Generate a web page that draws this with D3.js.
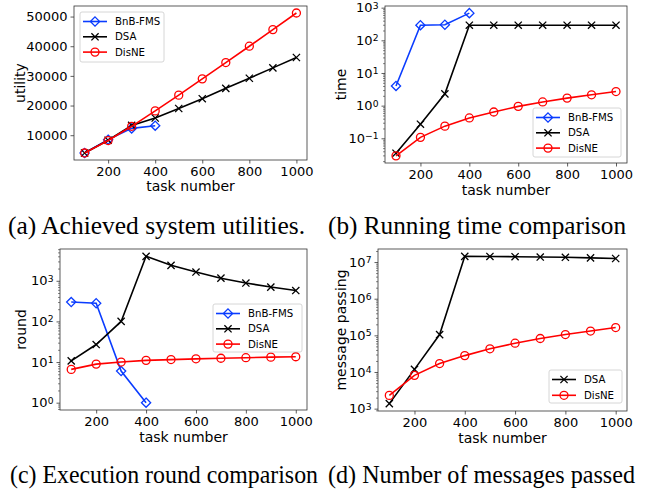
<!DOCTYPE html>
<html>
<head>
<meta charset="utf-8">
<script src="https://cdn.jsdelivr.net/npm/d3@7"></script>
<style>
body { margin: 0; background: #fff; }
svg { display: block; }
.cap { font-family: 'Liberation Serif', 'Times New Roman', Times, serif; }
</style>
</head>
<body>
<svg id="chart" width="655" height="490" font-family="DejaVu Sans, sans-serif"></svg>
<script>
// task numbers on the x axis
var tasks = [100, 200, 300, 400, 500, 600, 700, 800, 900, 1000];
var bnbTasks = [100, 200, 300, 400];
var xTicks = [200, 400, 600, 800, 1000];

// (a) achieved utility
var utilBnB = [4000, 8500, 12300, 13200];
var utilDSA = [4000, 8300, 13300, 15800, 19000, 22300, 25800, 29200, 32700, 36200];
var utilDisNE = [4000, 8200, 13000, 18200, 23500, 29000, 34500, 40000, 45600, 51200];

// (b) running time
var timeBnB = [4.0, 290, 300, 680];
var timeDSA = [0.035, 0.27, 2.3, 290, 290, 290, 290, 290, 290, 290];
var timeDisNE = [0.029, 0.107, 0.236, 0.42, 0.64, 0.95, 1.3, 1.7, 2.15, 2.7];

// (c) execution rounds
var roundBnB = [300, 280, 6, 1];
var roundDSA = [10.7, 27, 100, 4000, 2400, 1640, 1160, 880, 700, 575];
var roundDisNE = [6.6, 8.9, 10, 11, 11.5, 12, 12.4, 12.8, 13.2, 13.5];

// (d) messages passed
var msgDSA = [1370, 11800, 105000, 14300000, 14200000, 14000000, 13700000, 13500000, 13000000, 12500000];
var msgDisNE = [2300, 8100, 17000, 28000, 43000, 61000, 82000, 105000, 131000, 163000];

var utilTicks = [10000, 20000, 30000, 40000, 50000];

var captions = ["(a) Achieved system utilities.", "(b) Running time comparison",
	"(c) Execution round comparison", "(d) Number of messages passed"];

var styles = {
	"BnB-FMS": {color: "#0a3cff", marker: "diamond"},
	"DSA": {color: "#000000", marker: "x"},
	"DisNE": {color: "#ff0000", marker: "circle"}
};

var panels = [
	{x0: 74, x1: 307, y0: 6, y1: 160, log: false, ylabel: "utility", yTicks: utilTicks,
		series: [["BnB-FMS", bnbTasks, utilBnB], ["DSA", tasks, utilDSA], ["DisNE", tasks, utilDisNE]],
		legend: {x: 80, y: 12, w: 84, h: 50}, ylabX: 20, xlabY: 191, cap: {x: 8, y: 234, w: 297}},
	{x0: 385, x1: 627, y0: 6, y1: 163, log: true, ylabel: "time", yTicks: [0.1, 1, 10, 100, 1000],
		series: [["BnB-FMS", bnbTasks, timeBnB], ["DSA", tasks, timeDSA], ["DisNE", tasks, timeDisNE]],
		legend: {x: 533, y: 108, w: 88, h: 49}, ylabX: 341, xlabY: 195, cap: {x: 328, y: 234, w: 298}},
	{x0: 60, x1: 307, y0: 249, y1: 410, log: true, ylabel: "round", yTicks: [1, 10, 100, 1000],
		series: [["BnB-FMS", bnbTasks, roundBnB], ["DSA", tasks, roundDSA], ["DisNE", tasks, roundDisNE]],
		legend: {x: 213, y: 304, w: 89, h: 48}, ylabX: 21, xlabY: 442, cap: {x: 10, y: 483, w: 308}},
	{x0: 378, x1: 627, y0: 249, y1: 411, log: true, ylabel: "message passing", yTicks: [1e3, 1e4, 1e5, 1e6, 1e7],
		series: [["DSA", tasks, msgDSA], ["DisNE", tasks, msgDisNE]],
		legend: {x: 549, y: 370, w: 73, h: 33}, ylabX: 341, xlabY: 443, cap: {x: 328, y: 483, w: 307}}
];

var svg = d3.select("#chart");

function drawMarker(g, type, color, cx, cy) {
	if (type == "diamond") {
		g.append("path")
			.attr("d", "M" + cx + "," + (cy - 4.6) + "L" + (cx + 4.6) + "," + cy + "L" + cx + "," + (cy + 4.6) + "L" + (cx - 4.6) + "," + cy + "Z")
			.attr("fill", "none").attr("stroke", color).attr("stroke-width", 1.3);
	} else if (type == "circle") {
		g.append("circle").attr("cx", cx).attr("cy", cy).attr("r", 4)
			.attr("fill", "none").attr("stroke", color).attr("stroke-width", 1.3);
	} else {
		var s = 3.6;
		g.append("path")
			.attr("d", "M" + (cx - s) + "," + (cy - s) + "L" + (cx + s) + "," + (cy + s) + "M" + (cx - s) + "," + (cy + s) + "L" + (cx + s) + "," + (cy - s))
			.attr("stroke", color).attr("stroke-width", 1.3);
	}
}

function supLabel(sel, v) {
	var e = Math.round(Math.log10(v));
	sel.text("");
	sel.append("tspan").text("10");
	sel.append("tspan").attr("dy", -3.8).attr("font-size", 9.2).text(e < 0 ? "\u2212" + (-e) : e);
}

function drawPanel(p) {
	var g = svg.append("g");
	var x = d3.scaleLinear().domain([55, 1045]).range([p.x0, p.x1]);
	var all = [];
	p.series.forEach(function (s) { all = all.concat(s[2]); });
	var y;
	if (p.log) {
		var lo = Math.log10(d3.min(all)), hi = Math.log10(d3.max(all));
		var m = (hi - lo) * 0.05;
		y = d3.scaleLog().domain([Math.pow(10, lo - m), Math.pow(10, hi + m)]).range([p.y1, p.y0]);
	} else {
		var lo = d3.min(all), hi = d3.max(all);
		var m = (hi - lo) * 0.05;
		y = d3.scaleLinear().domain([lo - m, hi + m]).range([p.y1, p.y0]);
	}

	// axes
	var xa = g.append("g").attr("transform", "translate(0," + p.y1 + ")")
		.call(d3.axisBottom(x).tickValues(xTicks).tickSize(3.5).tickPadding(3).tickFormat(d3.format("d")));
	var ya = g.append("g").attr("transform", "translate(" + p.x0 + ",0)")
		.call(d3.axisLeft(y).tickValues(p.yTicks).tickSize(3.5).tickPadding(3).tickFormat(p.log ? function (d) { return d; } : d3.format("d")));
	if (p.log) {
		var minor = [];
		var dom = y.domain();
		for (var k = -3; k <= 8; k++) {
			for (var j = 2; j <= 9; j++) {
				var v = j * Math.pow(10, k);
				if (v >= dom[0] && v <= dom[1]) minor.push(v);
			}
		}
		g.append("g").attr("transform", "translate(" + p.x0 + ",0)")
			.call(d3.axisLeft(y).tickValues(minor).tickSize(2).tickFormat(""))
			.call(function (a) { a.select(".domain").remove(); a.selectAll("line").attr("stroke", "#333").attr("stroke-width", 0.6); });
		ya.selectAll(".tick text").each(function (d) { supLabel(d3.select(this), d); });
	}
	[xa, ya].forEach(function (a) {
		a.select(".domain").remove();
		a.selectAll(".tick line").attr("stroke", "#333").attr("stroke-width", 0.8);
		a.selectAll(".tick text").attr("font-size", 13).attr("font-family", "DejaVu Sans").attr("fill", "#000");
	});

	// frame
	g.append("rect").attr("x", p.x0).attr("y", p.y0).attr("width", p.x1 - p.x0).attr("height", p.y1 - p.y0)
		.attr("fill", "none").attr("stroke", "#333").attr("stroke-width", 0.8);

	// lines and markers
	var line = d3.line().x(function (d) { return x(d[0]); }).y(function (d) { return y(d[1]); });
	p.series.forEach(function (s) {
		var st = styles[s[0]];
		var pts = s[1].map(function (t, i) { return [t, s[2][i]]; });
		g.append("path").datum(pts).attr("d", line).attr("fill", "none")
			.attr("stroke", st.color).attr("stroke-width", 1.6);
		pts.forEach(function (d) { drawMarker(g, st.marker, st.color, x(d[0]), y(d[1])); });
	});

	// legend
	var L = p.legend;
	g.append("rect").attr("x", L.x).attr("y", L.y).attr("width", L.w).attr("height", L.h)
		.attr("rx", 2).attr("fill", "#fff").attr("fill-opacity", 0.85).attr("stroke", "#ccc").attr("stroke-width", 0.8);
	var step = p.series.length == 3 ? 15.3 : 15.8;
	p.series.forEach(function (s, i) {
		var st = styles[s[0]];
		var ly = L.y + 9.5 + i * step;
		g.append("line").attr("x1", L.x + 3).attr("x2", L.x + 27).attr("y1", ly).attr("y2", ly)
			.attr("stroke", st.color).attr("stroke-width", 1.6);
		drawMarker(g, st.marker, st.color, L.x + 15, ly);
		g.append("text").attr("x", L.x + 35).attr("y", ly + 3.6).attr("font-size", 10.2).text(s[0]);
	});

	// axis labels
	g.append("text").attr("x", (p.x0 + p.x1) / 2).attr("y", p.xlabY).attr("text-anchor", "middle")
		.attr("font-size", 14).text("task number");
	g.append("text").attr("transform", "translate(" + p.ylabX + "," + ((p.y0 + p.y1) / 2) + ") rotate(-90)")
		.attr("text-anchor", "middle").attr("dy", "0.35em").attr("font-size", 14).text(p.ylabel);
}

panels.forEach(function (p, i) {
	drawPanel(p);
	svg.append("text").attr("class", "cap").attr("x", p.cap.x).attr("y", p.cap.y)
		.attr("font-size", 25).attr("textLength", p.cap.w).attr("lengthAdjust", "spacingAndGlyphs")
		.text(captions[i]);
});
</script>
</body>
</html>
